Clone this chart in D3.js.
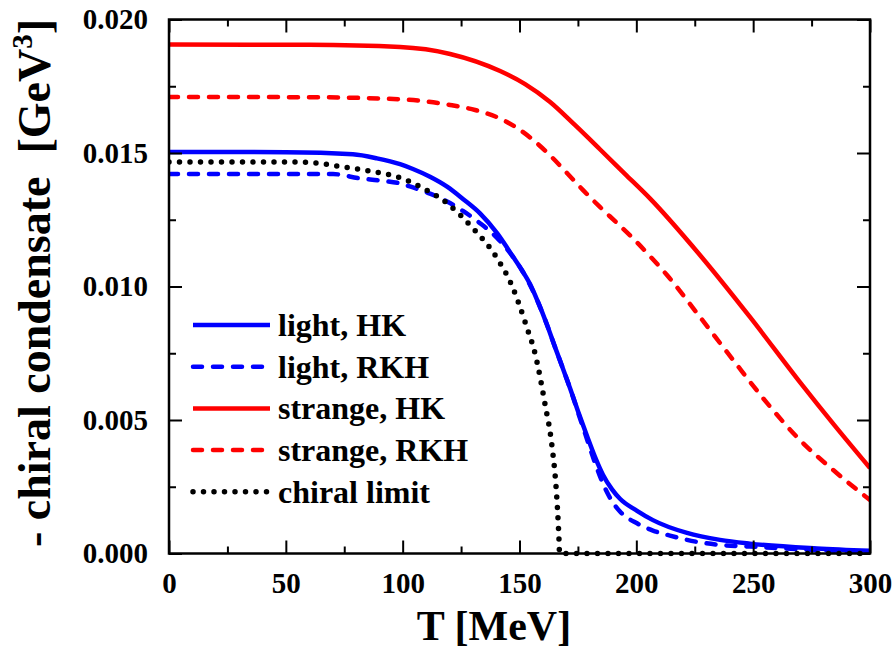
<!DOCTYPE html>
<html>
<head>
<meta charset="utf-8">
<script src="https://cdn.jsdelivr.net/npm/d3@7"></script>
<style>
  html, body { margin: 0; padding: 0; background: #fff; }
  svg { display: block; }
  text { font-family: "Liberation Serif", "Times New Roman", serif; font-weight: bold; fill: #000; }
</style>
</head>
<body>
<svg id="chart" width="896" height="651"></svg>
<script>
// Temperature grid (MeV) and -<qq> (GeV^3) for each curve
const tLightHK = [0, 50, 78.7, 89.0, 98.9, 104.4, 111.7, 119.0, 125.8, 133.1, 140.4, 147.2, 151.1, 154.5, 157.9, 161.8, 165.2, 168.2, 171.6, 175.0, 178.9, 182.3, 185.7, 189.6, 193.0, 200.3, 207.1, 221.7, 235.8, 248.6, 277.3, 300];
const vLightHK = [0.01504, 0.01503, 0.01495, 0.01480, 0.01458, 0.01440, 0.01411, 0.01374, 0.01328, 0.01274, 0.01200, 0.01112, 0.01060, 0.01009, 0.00942, 0.00856, 0.00773, 0.00702, 0.00620, 0.00534, 0.00440, 0.00362, 0.00295, 0.00240, 0.00205, 0.00160, 0.00125, 0.00077, 0.00051, 0.00037, 0.00019, 0.00010];

const tLightRKH = [0, 70.2, 81.7, 90.3, 98.9, 104.4, 111.7, 119.0, 125.8, 133.1, 140.4, 147.2, 151.1, 154.5, 157.9, 161.8, 165.2, 168.2, 171.6, 175.0, 178.9, 182.3, 185.7, 189.6, 193.0, 200.3, 207.1, 214.4, 221.7, 235.8, 248.6, 277.3, 300];
const vLightRKH = [0.01421, 0.01421, 0.01405, 0.01397, 0.01386, 0.01371, 0.01348, 0.01318, 0.01283, 0.01237, 0.01182, 0.01111, 0.01060, 0.01006, 0.00942, 0.00856, 0.00773, 0.00702, 0.00620, 0.00530, 0.00428, 0.00340, 0.00262, 0.00196, 0.00157, 0.00113, 0.00086, 0.00067, 0.00051, 0.00032, 0.00026, 0.00013, 0.00007];

const tStrangeHK = [0, 60, 98.9, 120.3, 141.7, 152.4, 163.1, 173.8, 184.4, 195.1, 205.8, 227.2, 248.6, 270.0, 285.0, 300];
const vStrangeHK = [0.01906, 0.01905, 0.01897, 0.01871, 0.01807, 0.01758, 0.01691, 0.01604, 0.01514, 0.01422, 0.01330, 0.01118, 0.00886, 0.00642, 0.00478, 0.0032];

const tStrangeRKH = [0, 60, 98.9, 120.3, 131.0, 141.7, 148.9, 155.8, 163.1, 170.3, 177.2, 184.4, 191.7, 198.6, 205.8, 213.1, 227.2, 241.4, 255.9, 270.0, 284.2, 300];
const vStrangeRKH = [0.01710, 0.01709, 0.01701, 0.01680, 0.01661, 0.01629, 0.01594, 0.01549, 0.01491, 0.01425, 0.01361, 0.01298, 0.01238, 0.01180, 0.01114, 0.01043, 0.00886, 0.00725, 0.00564, 0.00425, 0.00313, 0.0020];

const tChiral = [0, 56, 64.6, 71.9, 78.7, 84.7, 93.3, 97.6, 107.4, 119.0, 130.1, 140.4, 147.2, 149.8, 152.4, 154.1, 155.8, 157.5, 159.6, 161.3, 163.1, 164.3, 165.2, 166.0, 166.6, 167.0, 167.1, 200, 250, 300];
const vChiral = [0.01466, 0.01466, 0.01461, 0.01451, 0.01443, 0.01434, 0.01421, 0.01411, 0.01374, 0.01312, 0.01218, 0.01106, 0.00994, 0.00934, 0.00867, 0.00822, 0.00777, 0.00717, 0.00624, 0.00541, 0.00455, 0.00373, 0.00298, 0.00204, 0.00110, 0.00028, 0, 0, 0, 0];

const xMajorTicks = [0, 50, 100, 150, 200, 250, 300];
const xMinorTicks = [25, 75, 125, 175, 225, 275];
const yMajorTicks = [0.000, 0.005, 0.010, 0.015, 0.020];
const yMinorTicks = [0.0025, 0.0075, 0.0125, 0.0175];

const seriesNames  = ["light, HK", "light, RKH", "strange, HK", "strange, RKH", "chiral limit"];
const seriesColors = ["#0000ff", "#0000ff", "#ff0000", "#ff0000", "#000000"];
const seriesStyles = ["solid", "dashed", "solid", "dashed", "dotted"];

const series = [
  { t: tLightHK,    v: vLightHK },
  { t: tLightRKH,   v: vLightRKH },
  { t: tStrangeHK,  v: vStrangeHK },
  { t: tStrangeRKH, v: vStrangeRKH },
  { t: tChiral,     v: vChiral }
].map((s, i) => ({
  name: seriesNames[i], color: seriesColors[i], style: seriesStyles[i],
  points: s.t.map((t, j) => [t, s.v[j]])
}));

const svg = d3.select("#chart");
const L = 169, R = 870, T = 19.5, B = 553.5;

const x = d3.scaleLinear().domain([0, 300]).range([L, R]);
const y = d3.scaleLinear().domain([0, 0.020]).range([B, T]);

function strokeStyle(sel, style, color) {
  sel.attr("fill", "none").attr("stroke", color);
  if (style === "solid") {
    sel.attr("stroke-width", 4.5).attr("stroke-linecap", "butt");
  } else if (style === "dashed") {
    sel.attr("stroke-width", 4.5).attr("stroke-linecap", "round").attr("stroke-dasharray", "9,11");
  } else {
    sel.attr("stroke-width", 5.5).attr("stroke-linecap", "round").attr("stroke-dasharray", "0,10.5");
  }
  return sel;
}

// clip curves to the frame
svg.append("defs").append("clipPath").attr("id", "plotClip")
  .append("rect").attr("x", L).attr("y", T - 3).attr("width", R - L).attr("height", B - T + 6);

const line = d3.line()
  .x(d => x(d[0])).y(d => y(d[1]))
  .curve(d3.curveMonotoneX);

const curves = svg.append("g").attr("clip-path", "url(#plotClip)");
series.forEach(s => {
  curves.append("path").datum(s.points).attr("d", line)
    .call(strokeStyle, s.style, s.color);
});

// axes: inward ticks on all four sides
function styleAxis(g) {
  g.select(".domain").remove();
  g.selectAll(".tick line").attr("stroke", "#000").attr("stroke-width", 2);
  g.selectAll(".tick text").style("font-size", "29px").style("font-family", "'Liberation Serif', serif").style("font-weight", "bold");
}

svg.append("g").attr("transform", `translate(0,${B})`)
  .call(d3.axisBottom(x).tickValues(xMajorTicks).tickSize(-13).tickPadding(19).tickFormat(d3.format("d")))
  .call(styleAxis);
svg.append("g").attr("transform", `translate(0,${B})`)
  .call(d3.axisBottom(x).tickValues(xMinorTicks).tickSize(-7).tickFormat(""))
  .call(styleAxis);
svg.append("g").attr("transform", `translate(0,${T})`)
  .call(d3.axisTop(x).tickValues(xMajorTicks).tickSize(-13).tickFormat(""))
  .call(styleAxis);
svg.append("g").attr("transform", `translate(0,${T})`)
  .call(d3.axisTop(x).tickValues(xMinorTicks).tickSize(-7).tickFormat(""))
  .call(styleAxis);

svg.append("g").attr("transform", `translate(${L},0)`)
  .call(d3.axisLeft(y).tickValues(yMajorTicks).tickSize(-13).tickPadding(21).tickFormat(d3.format(".3f")))
  .call(styleAxis);
svg.append("g").attr("transform", `translate(${L},0)`)
  .call(d3.axisLeft(y).tickValues(yMinorTicks).tickSize(-7).tickFormat(""))
  .call(styleAxis);
svg.append("g").attr("transform", `translate(${R},0)`)
  .call(d3.axisRight(y).tickValues(yMajorTicks).tickSize(-13).tickFormat(""))
  .call(styleAxis);
svg.append("g").attr("transform", `translate(${R},0)`)
  .call(d3.axisRight(y).tickValues(yMinorTicks).tickSize(-7).tickFormat(""))
  .call(styleAxis);

// frame
svg.append("rect").attr("x", L).attr("y", T).attr("width", R - L).attr("height", B - T)
  .attr("fill", "none").attr("stroke", "#000").attr("stroke-width", 2.5);

// axis titles
svg.append("text").attr("x", 494).attr("y", 640).attr("text-anchor", "middle")
  .style("font-size", "42px").text("T [MeV]");

const yTitle = svg.append("text")
  .attr("transform", "translate(50,283) rotate(-90)")
  .attr("text-anchor", "middle")
  .style("font-size", "46px")
  .style("white-space", "pre")
  .attr("xml:space", "preserve");
yTitle.append("tspan").text("- chiral condensate  [GeV");
yTitle.append("tspan").attr("dy", -18).style("font-size", "29px").text("3");
yTitle.append("tspan").attr("dy", 18).text("]");

// legend
const legendRow0 = 325, legendStep = 41.7;
const legend = svg.append("g");
series.forEach((s, i) => {
  const yy = legendRow0 + i * legendStep;
  legend.append("line").attr("x1", 193).attr("x2", 270).attr("y1", yy).attr("y2", yy)
    .call(strokeStyle, s.style, s.color);
  legend.append("text").attr("x", 278).attr("y", yy + 11)
    .style("font-size", "32px").text(s.name);
});
</script>
</body>
</html>
